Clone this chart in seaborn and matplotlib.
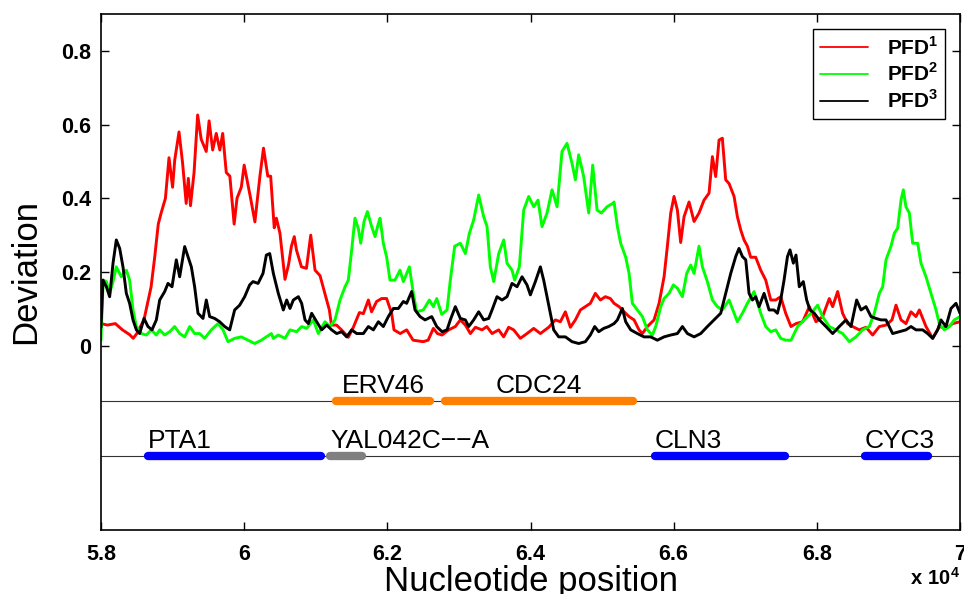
import numpy as np
import pandas as pd
import matplotlib
matplotlib.use("Agg")
import matplotlib.pyplot as plt
import seaborn as sns

# PFD^1 (red) sampled along the sequence
red_pos = [58000, 58090, 58200, 58300, 58400, 58450, 58500, 58600, 58700, 58750,
           58800, 58840, 58900, 58950, 59000, 59030, 59090, 59140, 59190, 59220,
           59250, 59300, 59350, 59400, 59470, 59510, 59560, 59610, 59660, 59700,
           59750, 59800, 59860, 59900, 59960, 60000, 60040, 60090, 60150, 60220,
           60270, 60330, 60370, 60420, 60450, 60500, 60570, 60620, 60660, 60700,
           60730, 60800, 60870, 60930, 60990, 61060, 61130, 61190, 61220, 61290,
           61360, 61455, 61525, 61610, 61665, 61735, 61780, 61850, 61920, 61990,
           62060, 62093, 62180, 62270, 62360, 62500, 62570, 62643, 62700, 62764,
           62857, 62950, 63020, 63090, 63160, 63230, 63323, 63390, 63463, 63555,
           63625, 63695, 63765, 63858, 63951, 64045, 64138, 64254, 64347, 64417,
           64487, 64557, 64627, 64697, 64767, 64836, 64906, 64976, 65046, 65116,
           65167, 65237, 65307, 65377, 65447, 65516, 65563, 65633, 65726, 65796,
           65866, 65912, 65959, 66005, 66052, 66098, 66145, 66215, 66285, 66354,
           66424, 66494, 66541, 66587, 66634, 66680, 66727, 66774, 66844, 66890,
           66937, 66983, 67030, 67076, 67146, 67216, 67286, 67356, 67426, 67495,
           67565, 67639, 67709, 67802, 67895, 67988, 68081, 68174, 68221, 68291,
           68360, 68430, 68500, 68593, 68687, 68780, 68873, 68966, 69050, 69106,
           69176, 69245, 69315, 69385, 69432, 69525, 69618, 69711, 69804, 69897,
           70000]
red_val = [0.06, 0.056, 0.06, 0.043, 0.03, 0.02, 0.033, 0.07, 0.16, 0.24,
           0.33, 0.36, 0.40, 0.51, 0.43, 0.504, 0.58, 0.495, 0.386, 0.454,
           0.38, 0.47, 0.626, 0.56, 0.527, 0.61, 0.531, 0.576, 0.531, 0.576,
           0.47, 0.46, 0.33, 0.40, 0.43, 0.49, 0.45, 0.40, 0.336, 0.46,
           0.536, 0.46, 0.46, 0.32, 0.346, 0.305, 0.18, 0.22, 0.27, 0.296,
           0.26, 0.214, 0.21, 0.30, 0.205, 0.19, 0.14, 0.097, 0.056, 0.056,
           0.043, 0.023, 0.05, 0.09, 0.087, 0.124, 0.092, 0.12, 0.128, 0.128,
           0.088, 0.043, 0.033, 0.043, 0.015, 0.011, 0.015, 0.047, 0.033, 0.029,
           0.043, 0.052, 0.07, 0.056, 0.033, 0.05, 0.043, 0.052, 0.033, 0.043,
           0.024, 0.05, 0.043, 0.02, 0.033, 0.047, 0.033, 0.05, 0.07, 0.065,
           0.092, 0.05, 0.07, 0.097, 0.106, 0.115, 0.142, 0.124, 0.133, 0.128,
           0.115, 0.106, 0.092, 0.079, 0.07, 0.043, 0.033, 0.052, 0.07, 0.115,
           0.187, 0.27, 0.36, 0.405, 0.368, 0.28, 0.35, 0.39, 0.337, 0.36,
           0.395, 0.414, 0.513, 0.459, 0.558, 0.563, 0.45, 0.44, 0.405, 0.35,
           0.314, 0.287, 0.27, 0.24, 0.24, 0.205, 0.178, 0.124, 0.124, 0.133,
           0.088, 0.052, 0.06, 0.065, 0.106, 0.065, 0.079, 0.128, 0.106, 0.147,
           0.088, 0.06, 0.052, 0.043, 0.05, 0.029, 0.052, 0.056, 0.07, 0.11,
           0.07, 0.06, 0.092, 0.079, 0.097, 0.052, 0.02, 0.052, 0.047, 0.06,
           0.065]

# PFD^2 (green)
green_pos = [58000, 58030, 58075, 58121, 58168, 58214, 58284, 58354, 58400, 58447,
             58494, 58563, 58633, 58703, 58773, 58820, 58890, 58960, 59029, 59099,
             59169, 59239, 59308, 59378, 59448, 59541, 59635, 59705, 59774, 59867,
             59960, 60054, 60147, 60240, 60310, 60380, 60408, 60477, 60571, 60640,
             60734, 60803, 60873, 60966, 61036, 61129, 61199, 61269, 61339, 61409,
             61455, 61502, 61548, 61595, 61628, 61675, 61721, 61782, 61828, 61875,
             61898, 61944, 61991, 62037, 62107, 62177, 62224, 62308, 62363, 62410,
             62503, 62587, 62643, 62690, 62760, 62834, 62880, 62941, 63020, 63090,
             63146, 63206, 63276, 63346, 63393, 63439, 63486, 63556, 63626, 63672,
             63742, 63779, 63844, 63905, 63975, 64045, 64105, 64161, 64231, 64301,
             64371, 64440, 64510, 64580, 64627, 64673, 64743, 64813, 64869, 64930,
             64990, 65069, 65148, 65167, 65214, 65260, 65330, 65377, 65423, 65493,
             65563, 65633, 65703, 65749, 65819, 65866, 65935, 65996, 66052, 66122,
             66182, 66238, 66285, 66354, 66401, 66471, 66541, 66611, 66680, 66774,
             66844, 66890, 66960, 67030, 67123, 67216, 67286, 67356, 67426, 67495,
             67565, 67639, 67732, 67825, 67918, 68011, 68081, 68174, 68267, 68360,
             68454, 68547, 68640, 68733, 68803, 68873, 68920, 68966, 69036, 69082,
             69129, 69176, 69208, 69245, 69292, 69339, 69409, 69455, 69525, 69595,
             69665, 69711, 69781, 69851, 69921, 70000]
green_val = [0.015, 0.178, 0.174, 0.142, 0.174, 0.214, 0.187, 0.205, 0.178, 0.097,
             0.052, 0.033, 0.029, 0.043, 0.029, 0.043, 0.029, 0.038, 0.052, 0.033,
             0.024, 0.052, 0.033, 0.033, 0.02, 0.043, 0.06, 0.043, 0.011, 0.02,
             0.024, 0.015, 0.006, 0.015, 0.024, 0.033, 0.02, 0.029, 0.02, 0.043,
             0.038, 0.052, 0.047, 0.07, 0.033, 0.065, 0.052, 0.07, 0.124, 0.16,
             0.178, 0.26, 0.346, 0.318, 0.278, 0.337, 0.364, 0.323, 0.296, 0.332,
             0.346, 0.278, 0.24, 0.178, 0.178, 0.205, 0.174, 0.214, 0.142, 0.092,
             0.097, 0.124, 0.106, 0.128, 0.085, 0.097, 0.178, 0.27, 0.278, 0.25,
             0.305, 0.341, 0.409, 0.35, 0.323, 0.214, 0.174, 0.25, 0.287, 0.224,
             0.205, 0.178, 0.214, 0.368, 0.405, 0.377, 0.395, 0.323, 0.36, 0.423,
             0.377, 0.527, 0.549, 0.495, 0.45, 0.518, 0.459, 0.36, 0.49, 0.368,
             0.36, 0.377, 0.386, 0.39, 0.323, 0.278, 0.24, 0.196, 0.115, 0.097,
             0.079, 0.043, 0.029, 0.052, 0.106, 0.128, 0.142, 0.165, 0.156, 0.133,
             0.196, 0.219, 0.196, 0.27, 0.214, 0.174, 0.124, 0.106, 0.097, 0.124,
             0.088, 0.065, 0.088, 0.115, 0.147, 0.088, 0.052, 0.038, 0.043, 0.02,
             0.015, 0.015, 0.052, 0.07, 0.088, 0.11, 0.079, 0.052, 0.043, 0.033,
             0.011, 0.024, 0.043, 0.052, 0.088, 0.142, 0.16, 0.233, 0.27, 0.305,
             0.319, 0.395, 0.423, 0.377, 0.36, 0.278, 0.278, 0.224, 0.187, 0.142,
             0.097, 0.06, 0.043, 0.052, 0.07, 0.079]

# PFD^3 (black)
black_pos = [58000, 58028, 58075, 58121, 58168, 58214, 58261, 58307, 58354, 58400,
             58447, 58494, 58540, 58601, 58656, 58712, 58773, 58820, 58890, 58936,
             58992, 59052, 59099, 59169, 59215, 59262, 59308, 59355, 59425, 59471,
             59518, 59588, 59658, 59728, 59798, 59867, 59937, 60007, 60077, 60124,
             60194, 60263, 60310, 60357, 60408, 60477, 60547, 60594, 60640, 60687,
             60757, 60803, 60850, 60897, 60943, 61013, 61083, 61153, 61222, 61292,
             61362, 61432, 61502, 61572, 61665, 61735, 61805, 61875, 61944, 62014,
             62084, 62154, 62224, 62270, 62340, 62387, 62457, 62527, 62620, 62690,
             62764, 62834, 62880, 62950, 63020, 63090, 63137, 63206, 63276, 63346,
             63416, 63463, 63532, 63602, 63672, 63742, 63812, 63882, 63951, 63998,
             64068, 64138, 64184, 64231, 64278, 64324, 64394, 64487, 64580, 64673,
             64767, 64836, 64897, 64953, 65023, 65093, 65167, 65214, 65283, 65330,
             65400, 65493, 65586, 65679, 65772, 65866, 65959, 66052, 66122, 66192,
             66285, 66378, 66471, 66564, 66657, 66727, 66797, 66867, 66913, 66960,
             67007, 67053, 67100, 67146, 67193, 67263, 67333, 67402, 67449, 67495,
             67542, 67590, 67625, 67672, 67709, 67755, 67811, 67858, 67904, 67965,
             68035, 68128, 68221, 68314, 68407, 68477, 68556, 68617, 68687, 68757,
             68826, 68896, 68966, 69059, 69152, 69245, 69315, 69385, 69478, 69548,
             69618, 69688, 69734, 69804, 69874, 69944, 70000]
black_val = [0.05, 0.178, 0.16, 0.133, 0.224, 0.287, 0.264, 0.214, 0.142, 0.115,
             0.07, 0.043, 0.033, 0.074, 0.052, 0.043, 0.07, 0.124, 0.147, 0.169,
             0.16, 0.233, 0.187, 0.269, 0.242, 0.214, 0.16, 0.088, 0.074, 0.124,
             0.079, 0.074, 0.065, 0.052, 0.043, 0.097, 0.11, 0.133, 0.165, 0.174,
             0.169, 0.196, 0.246, 0.25, 0.196, 0.142, 0.097, 0.124, 0.101, 0.124,
             0.133, 0.115, 0.07, 0.06, 0.088, 0.065, 0.043, 0.056, 0.043, 0.033,
             0.038, 0.024, 0.043, 0.033, 0.033, 0.052, 0.043, 0.065, 0.052, 0.079,
             0.101, 0.101, 0.12, 0.115, 0.147, 0.097, 0.079, 0.07, 0.079, 0.052,
             0.038, 0.043, 0.07, 0.106, 0.074, 0.07, 0.052, 0.07, 0.092, 0.07,
             0.074, 0.097, 0.133, 0.124, 0.133, 0.169, 0.16, 0.187, 0.165, 0.138,
             0.174, 0.214, 0.178, 0.133, 0.088, 0.043, 0.024, 0.024, 0.011, 0.006,
             0.011, 0.029, 0.052, 0.038, 0.047, 0.052, 0.06, 0.07, 0.101, 0.065,
             0.043, 0.033, 0.024, 0.024, 0.015, 0.024, 0.029, 0.033, 0.052, 0.033,
             0.024, 0.033, 0.052, 0.07, 0.088, 0.142, 0.196, 0.242, 0.264, 0.242,
             0.233, 0.142, 0.124, 0.133, 0.106, 0.142, 0.097, 0.097, 0.088, 0.124,
             0.178, 0.242, 0.26, 0.224, 0.246, 0.16, 0.174, 0.124, 0.097, 0.088,
             0.07, 0.052, 0.033, 0.052, 0.07, 0.052, 0.124, 0.097, 0.106, 0.079,
             0.074, 0.07, 0.07, 0.033, 0.038, 0.043, 0.052, 0.043, 0.043, 0.033,
             0.02, 0.043, 0.07, 0.052, 0.101, 0.115, 0.088]

# gene annotation tracks
gene_names = ["ERV46", "CDC24", "PTA1", "YAL042C\u2212\u2212A", "CLN3", "CYC3"]
gene_start = [61280, 62810, 58660, 61200, 65740, 68670]
gene_end = [62600, 65430, 61080, 61640, 67560, 69550]
gene_track = [-0.15, -0.15, -0.30, -0.30, -0.30, -0.30]
gene_colors = ["#ff8000", "#ff8000", "#0000ff", "#808080", "#0000ff", "#0000ff"]
gene_label_ha = ["center", "center", "left", "left", "left", "left"]
track_levels = [-0.15, -0.30]

xticks = [58000, 60000, 62000, 64000, 66000, 68000, 70000]
xtick_labels = ["5.8", "6", "6.2", "6.4", "6.6", "6.8", "7"]
yticks = [0, 0.2, 0.4, 0.6, 0.8]
ytick_labels = ["0", "0.2", "0.4", "0.6", "0.8"]

sns.set_style("white")
plt.rcParams["font.family"] = ["Liberation Sans", "DejaVu Sans"]
plt.rcParams["mathtext.fontset"] = "custom"
plt.rcParams["mathtext.rm"] = "Liberation Sans"
plt.rcParams["mathtext.bf"] = "Liberation Sans:bold"
for key in ["text.color", "axes.labelcolor", "xtick.color", "ytick.color"]:
    plt.rcParams[key] = "black"

fig = plt.figure(figsize=(9.64, 5.94), dpi=100)
ax = fig.add_axes([101 / 964, 64 / 594, 859 / 964, 516 / 594])

series = [
    (red_pos, red_val, "#ff0000", r"PFD$^\mathbf{1}$"),
    (green_pos, green_val, "#00ff00", r"PFD$^\mathbf{2}$"),
    (black_pos, black_val, "#000000", r"PFD$^\mathbf{3}$"),
]
for pos, val, col, lab in series:
    sns.lineplot(x=pos, y=val, color=col, lw=2.1, label=lab, ax=ax,
                 estimator=None, sort=False)

# track baselines
for lev in track_levels:
    ax.plot([58000, 70000], [lev, lev], color="0.2", lw=0.8, zorder=1)

# genes
for name, s, e, t, c, ha in zip(gene_names, gene_start, gene_end, gene_track,
                                gene_colors, gene_label_ha):
    ax.plot([s, e], [t, t], color=c, lw=6, solid_capstyle="round", zorder=2)
    tx = (s + e) / 2 if ha == "center" else s
    ax.text(tx, t + 0.023, name, ha=ha, va="baseline", fontsize=19)

ax.set_xlim(58000, 70000)
ax.set_ylim(-0.5, 0.9)
ax.set_xticks(xticks)
ax.set_xticklabels(xtick_labels, fontweight="bold")
ax.set_yticks(yticks)
ax.set_yticklabels(ytick_labels, fontweight="bold")
ax.tick_params(direction="in", length=6, width=1, labelsize=15.5,
               top=True, right=True, bottom=True, left=True, pad=7)
ax.tick_params(axis="x", pad=10)
for sp in ax.spines.values():
    sp.set_visible(True)
    sp.set_color("black")
    sp.set_linewidth(1.2)

ax.set_xlabel("Nucleotide position", fontsize=25, labelpad=0)
ax.set_ylabel("Deviation", fontsize=25, labelpad=14)
ax.text(1.0, -0.093, r"$\mathbf{x\ 10^4}$", transform=ax.transAxes,
        ha="right", va="center", fontsize=14.5)

leg = ax.legend(loc="upper right", prop={"size": 15, "weight": "bold"},
                frameon=True, fancybox=False, edgecolor="black", framealpha=1,
                handlelength=2.3, borderaxespad=0.7, labelspacing=0.2,
                borderpad=0.35, handletextpad=0.9)
leg.get_frame().set_linewidth(1.0)
for h in leg.get_lines():
    h.set_linewidth(1.3)

fig.savefig("out.png", dpi=100)
